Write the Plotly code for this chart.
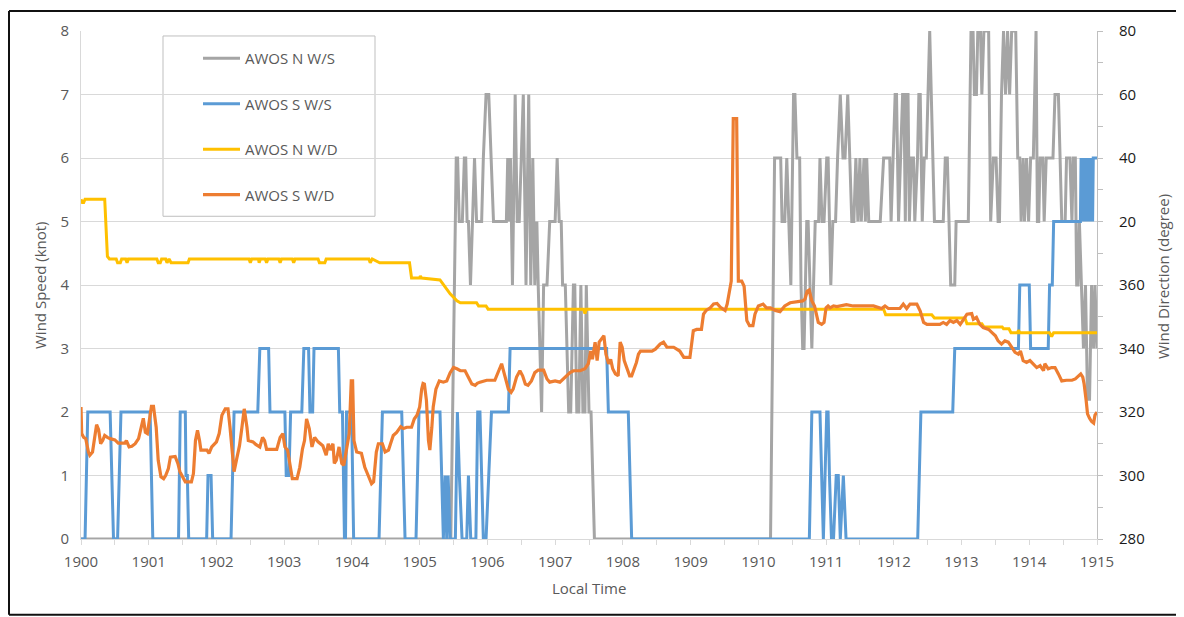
import plotly.graph_objects as go

# ---------------- data ----------------
# time axis in minutes, labelled 1900 ... 1915
x_tick_vals = list(range(1900, 1916))

# AWOS N wind speed (knot)
n_ws_t = [1900.00, 1905.46, 1905.54, 1905.56, 1905.585, 1905.63, 1905.66, 1905.68, 1905.70, 1905.72,
          1905.75, 1905.78, 1905.81, 1905.84, 1905.915, 1905.94, 1905.98, 1906.02, 1906.05, 1906.09,
          1906.28, 1906.30, 1906.32, 1906.34, 1906.37, 1906.41, 1906.44, 1906.47, 1906.50, 1906.53,
          1906.57, 1906.61, 1906.64, 1906.67, 1906.70, 1906.73, 1906.75, 1906.80, 1906.83, 1906.88,
          1906.92, 1907.00, 1907.03, 1907.06, 1907.09, 1907.11, 1907.15, 1907.20, 1907.23, 1907.27,
          1907.29, 1907.32, 1907.35, 1907.38, 1907.41, 1907.44, 1907.46, 1907.50, 1907.53, 1907.58,
          1910.18, 1910.24, 1910.33, 1910.35, 1910.39, 1910.42, 1910.45, 1910.48, 1910.52, 1910.54,
          1910.57, 1910.61, 1910.63, 1910.655, 1910.675, 1910.715, 1910.735, 1910.79, 1910.84, 1910.89,
          1910.91, 1910.94, 1910.97, 1911.01, 1911.03, 1911.07, 1911.10, 1911.14, 1911.17, 1911.21,
          1911.25, 1911.28, 1911.32, 1911.35, 1911.38, 1911.41, 1911.44, 1911.47, 1911.50, 1911.52,
          1911.56, 1911.58, 1911.60, 1911.63, 1911.80, 1911.85, 1911.94, 1911.96, 1911.99, 1912.02,
          1912.04, 1912.07, 1912.10, 1912.13, 1912.15, 1912.17, 1912.19, 1912.21, 1912.23, 1912.26,
          1912.29, 1912.31, 1912.35, 1912.37, 1912.39, 1912.42, 1912.45, 1912.48, 1912.53, 1912.57,
          1912.60, 1912.73, 1912.76, 1912.79, 1912.84, 1912.90, 1912.92, 1913.10, 1913.14, 1913.17,
          1913.19, 1913.22, 1913.24, 1913.28, 1913.30, 1913.33, 1913.40, 1913.43, 1913.47, 1913.51,
          1913.54, 1913.56, 1913.59, 1913.62, 1913.65, 1913.68, 1913.71, 1913.74, 1913.80, 1913.83,
          1913.86, 1913.88, 1913.91, 1913.93, 1913.96, 1913.99, 1914.02, 1914.06, 1914.10, 1914.12,
          1914.14, 1914.16, 1914.20, 1914.22, 1914.25, 1914.35, 1914.38, 1914.43, 1914.46, 1914.48,
          1914.53, 1914.55, 1914.60, 1914.63, 1914.65, 1914.68, 1914.70, 1914.72, 1914.74, 1914.77,
          1914.80, 1914.83, 1914.86, 1914.89, 1914.92, 1914.95, 1914.97, 1915.00]
n_ws_v = [0, 0, 6, 6, 5, 5, 6, 6, 5, 5,
          4, 5, 6, 5, 5, 6, 7, 7, 6, 5,
          5, 6, 5, 6, 4, 7, 5, 5, 6, 7,
          4, 7, 4, 6, 4, 5, 4, 2, 4, 4,
          5, 5, 6, 5, 5, 4, 4, 2, 2, 4,
          4, 2, 2, 4, 2, 2, 4, 2, 2, 0,
          0, 6, 6, 5, 5, 6, 5, 4, 7, 7,
          6, 6, 4, 3, 3, 5, 5, 3, 5, 5,
          6, 5, 5, 6, 6, 4, 5, 5, 6, 7,
          6, 6, 7, 6, 5, 5, 6, 5, 6, 5,
          6, 5, 6, 5, 5, 6, 6, 5, 6, 7,
          7, 5, 6, 7, 7, 5, 7, 7, 5, 6,
          6, 5, 6, 7, 7, 5, 6, 6, 8, 6,
          5, 5, 6, 6, 4, 4, 5, 5, 8, 8,
          7, 7, 8, 8, 7, 8, 8, 5, 6, 6,
          5, 5, 7, 8, 7, 8, 7, 8, 8, 6,
          6, 5, 6, 5, 6, 5, 6, 6, 8, 5,
          5, 6, 6, 5, 6, 6, 7, 7, 6, 5,
          5, 6, 6, 5, 6, 6, 4, 4, 5, 4,
          3, 4, 2.2, 2.2, 4, 3, 4, 3]

# AWOS S wind speed (knot)
s_ws_t = [1900.00, 1900.06, 1900.08, 1900.10, 1900.43, 1900.455, 1900.48, 1900.54, 1900.56, 1900.59,
          1901.02, 1901.04, 1901.06, 1901.44, 1901.465, 1901.54, 1901.55, 1901.57, 1901.59, 1901.855,
          1901.875, 1901.92, 1901.944, 1902.215, 1902.235, 1902.26, 1902.61, 1902.64, 1902.77, 1902.79,
          1903.01, 1903.03, 1903.07, 1903.095, 1903.26, 1903.29, 1903.36, 1903.38, 1903.42, 1903.44,
          1903.80, 1903.82, 1903.86, 1903.875, 1903.89, 1903.905, 1903.92, 1903.995, 1904.01, 1904.025,
          1904.40, 1904.425, 1904.45, 1904.735, 1904.76, 1904.784, 1904.946, 1904.966, 1904.99, 1905.30,
          1905.325, 1905.35, 1905.375, 1905.40, 1905.42, 1905.45, 1905.527, 1905.557, 1905.586, 1905.626,
          1905.695, 1905.72, 1905.754, 1905.83, 1905.857, 1905.89, 1905.94, 1905.98, 1906.02, 1906.06,
          1906.31, 1906.335, 1907.76, 1907.786, 1908.08, 1908.10, 1908.13, 1910.753, 1910.77, 1910.79,
          1910.91, 1910.93, 1910.96, 1911.01, 1911.03, 1911.05, 1911.08, 1911.11, 1911.15, 1911.18,
          1911.21, 1911.255, 1911.295, 1912.353, 1912.375, 1912.40, 1912.87, 1912.90, 1913.84, 1913.86,
          1914.00, 1914.02, 1914.28, 1914.30, 1914.34, 1914.36, 1914.755, 1914.765, 1914.775, 1914.785,
          1914.795, 1914.805, 1914.815, 1914.825, 1914.835, 1914.845, 1914.855, 1914.865, 1914.875, 1914.885,
          1914.895, 1914.905, 1914.915, 1914.925, 1914.935, 1914.945, 1915.00]
s_ws_v = [0, 0, 1, 2, 2, 1, 0, 0, 1, 2,
          2, 1, 0, 0, 2, 2, 1, 1, 0, 0,
          1, 1, 0, 0, 1, 2, 2, 3, 3, 2,
          2, 1, 1, 2, 2, 3, 3, 2, 2, 3,
          3, 2, 2, 1, 0, 0, 2, 2, 1, 0,
          0, 1, 2, 2, 1, 0, 0, 1, 2, 2,
          1, 0, 1, 0, 1, 0, 0, 2, 1, 0,
          0, 1, 0, 0, 2, 2, 0, 0, 1, 2,
          2, 3, 3, 2, 2, 1, 0, 0, 1, 2,
          2, 1, 0, 2, 2, 1, 0, 0, 1, 1,
          0, 1, 0, 0, 1, 2, 2, 3, 3, 4,
          4, 3, 3, 4, 4, 5, 5, 6, 5, 6,
          5, 6, 5, 6, 5, 6, 5, 6, 5, 6,
          5, 6, 5, 6, 5, 6, 6]

# AWOS N wind direction (degree, values past north continue above 360)
n_wd_t = [1900.00, 1900.02, 1900.04, 1900.06, 1900.35, 1900.39, 1900.42, 1900.52, 1900.54, 1900.58,
          1900.60, 1900.66, 1900.68, 1900.70, 1901.12, 1901.14, 1901.17, 1901.19, 1901.25, 1901.27,
          1901.30, 1901.33, 1901.58, 1901.60, 1902.48, 1902.50, 1902.52, 1902.62, 1902.63, 1902.65,
          1902.72, 1902.74, 1902.76, 1902.92, 1902.94, 1902.96, 1903.12, 1903.14, 1903.16, 1903.50,
          1903.52, 1903.60, 1903.62, 1904.25, 1904.27, 1904.30, 1904.41, 1904.85, 1904.88, 1905.00,
          1905.01, 1905.03, 1905.30, 1905.35, 1905.45, 1905.55, 1905.60, 1905.84, 1905.87, 1905.98,
          1906.01, 1907.42, 1907.44, 1907.46, 1911.85, 1911.88, 1912.56, 1912.60, 1913.05, 1913.08,
          1913.30, 1913.33, 1913.60, 1913.62, 1913.70, 1913.73, 1913.83, 1913.84, 1913.86, 1914.30,
          1914.33, 1914.36, 1915.00]
n_wd_deg = [387, 386, 386, 387, 387, 369, 368.2, 368.2, 367, 367,
            368.2, 368.2, 367, 368.2, 368.2, 367, 367, 368.2, 368.2, 367,
            368.2, 367, 367, 368.2, 368.2, 367, 368.2, 368.2, 367, 368.2,
            368.2, 367, 368.2, 368.2, 367, 368.2, 368.2, 367, 368.2, 368.2,
            367, 367, 368.2, 368.2, 367, 368.2, 367, 367, 362.2, 362.2,
            362.8, 362.2, 361.6, 360, 357.2, 355, 354.4, 354.4, 353.4, 353.4,
            352.4, 352.4, 351, 352.4, 352.4, 350.6, 350.6, 349.6, 349.6, 347.8,
            347.8, 346.8, 346.8, 346.2, 346.2, 345, 345, 345.8, 345, 345,
            343.8, 345, 345]

# AWOS S wind direction (degree)
s_wd_t = [1900.00, 1900.01, 1900.04, 1900.07, 1900.11, 1900.13, 1900.17, 1900.21, 1900.23, 1900.26,
          1900.29, 1900.32, 1900.35, 1900.39, 1900.43, 1900.50, 1900.55, 1900.65, 1900.67, 1900.71,
          1900.75, 1900.80, 1900.85, 1900.92, 1900.95, 1900.98, 1901.01, 1901.04, 1901.07, 1901.11,
          1901.14, 1901.18, 1901.22, 1901.25, 1901.29, 1901.32, 1901.39, 1901.43, 1901.46, 1901.50,
          1901.54, 1901.63, 1901.66, 1901.69, 1901.72, 1901.75, 1901.77, 1901.86, 1901.89, 1901.93,
          1902.00, 1902.04, 1902.08, 1902.13, 1902.17, 1902.20, 1902.23, 1902.26, 1902.30, 1902.34,
          1902.37, 1902.41, 1902.45, 1902.47, 1902.54, 1902.58, 1902.64, 1902.68, 1902.71, 1902.74,
          1902.89, 1902.94, 1902.98, 1903.01, 1903.05, 1903.09, 1903.12, 1903.19, 1903.23, 1903.27,
          1903.30, 1903.33, 1903.37, 1903.41, 1903.45, 1903.50, 1903.57, 1903.62, 1903.65, 1903.68,
          1903.72, 1903.74, 1903.77, 1903.81, 1903.85, 1903.88, 1903.92, 1903.96, 1903.99, 1904.01,
          1904.03, 1904.07, 1904.14, 1904.19, 1904.24, 1904.29, 1904.32, 1904.36, 1904.39, 1904.45,
          1904.49, 1904.54, 1904.57, 1904.61, 1904.66, 1904.72, 1904.76, 1904.81, 1904.88, 1904.92,
          1904.96, 1905.00, 1905.03, 1905.05, 1905.07, 1905.10, 1905.13, 1905.15, 1905.18, 1905.20,
          1905.24, 1905.29, 1905.35, 1905.40, 1905.45, 1905.50, 1905.55, 1905.60, 1905.67, 1905.72,
          1905.77, 1905.82, 1905.85, 1905.89, 1905.94, 1905.99, 1906.11, 1906.16, 1906.21, 1906.23,
          1906.26, 1906.31, 1906.35, 1906.38, 1906.43, 1906.48, 1906.52, 1906.56, 1906.60, 1906.65,
          1906.70, 1906.75, 1906.83, 1906.88, 1906.92, 1907.00, 1907.07, 1907.12, 1907.17, 1907.22,
          1907.27, 1907.37, 1907.44, 1907.49, 1907.525, 1907.55, 1907.59, 1907.62, 1907.65, 1907.69,
          1907.72, 1907.75, 1907.79, 1907.82, 1907.85, 1907.89, 1907.93, 1907.96, 1907.99, 1908.02,
          1908.06, 1908.10, 1908.13, 1908.17, 1908.20, 1908.23, 1908.26, 1908.35, 1908.43, 1908.48,
          1908.55, 1908.60, 1908.65, 1908.75, 1908.84, 1908.90, 1908.99, 1909.04, 1909.09, 1909.16,
          1909.19, 1909.23, 1909.29, 1909.34, 1909.39, 1909.44, 1909.51, 1909.54, 1909.57, 1909.60,
          1909.63, 1909.68, 1909.705, 1909.755, 1909.79, 1909.83, 1909.87, 1909.92, 1909.95, 1910.00,
          1910.07, 1910.12, 1910.18, 1910.25, 1910.32, 1910.39, 1910.47, 1910.57, 1910.655, 1910.69,
          1910.72, 1910.75, 1910.79, 1910.83, 1910.885, 1910.935, 1910.97, 1911.00, 1911.03, 1911.06,
          1911.11, 1911.16, 1911.21, 1911.30, 1911.40, 1911.50, 1911.70, 1911.82, 1911.87, 1911.92,
          1911.99, 1912.09, 1912.14, 1912.19, 1912.24, 1912.34, 1912.39, 1912.44, 1912.49, 1912.68,
          1912.73, 1912.78, 1912.83, 1912.88, 1912.93, 1912.98, 1913.03, 1913.08, 1913.15, 1913.175,
          1913.22, 1913.27, 1913.32, 1913.40, 1913.45, 1913.50, 1913.54, 1913.59, 1913.64, 1913.69,
          1913.74, 1913.79, 1913.84, 1913.87, 1913.91, 1913.96, 1914.01, 1914.06, 1914.11, 1914.16,
          1914.21, 1914.23, 1914.28, 1914.33, 1914.38, 1914.43, 1914.48, 1914.55, 1914.63, 1914.68,
          1914.725, 1914.76, 1914.79, 1914.81, 1914.84, 1914.86, 1914.89, 1914.92, 1914.95, 1914.97,
          1915.00]
s_wd_deg = [321.6, 313.2, 312, 311.6, 307.4, 306.4, 307.4, 313.2, 316, 314.4,
            310, 311, 312.6, 312, 311.6, 311.2, 310.2, 310.2, 311, 309,
            309.2, 310, 311.6, 318, 313.6, 313.2, 317.4, 321.8, 321.8, 315.2,
            304.8, 299.6, 299, 300, 302.2, 305.8, 306, 303.8, 301.2, 299.6,
            298, 298, 300.6, 311, 314.2, 311, 308, 308, 307, 309,
            310.6, 313.2, 319, 321, 321, 315.2, 308, 301.2, 305.4, 309.4,
            314.2, 321, 315.2, 311, 310.6, 309.8, 309, 312, 311, 308.2,
            308.2, 312, 313.2, 309, 308, 302.2, 299, 299, 302.6, 308.4,
            311, 317.8, 314.8, 309, 312, 310.6, 309.4, 306.4, 310, 308,
            310, 303.8, 304.8, 309, 303.8, 303.2, 309, 313.2, 329.8, 329.8,
            311, 307.4, 307, 302.6, 300, 297.4, 298, 307.4, 310, 310,
            307.4, 308, 310, 312.6, 313.6, 315.4, 314.8, 315.2, 315.2, 317.8,
            319, 321.6, 327.2, 329, 328.8, 323.6, 311, 308, 315.2, 321.6,
            327.2, 329.8, 329.4, 329.8, 332.4, 334, 333.6, 333, 333, 331,
            328.8, 328.4, 329, 329.4, 329.8, 330, 330, 332.4, 335.2, 333.6,
            331, 327.2, 326.2, 327.2, 331, 333, 331.4, 328.8, 328.4, 329.8,
            332.4, 333.2, 333.2, 330.4, 329.4, 329.8, 329.4, 330.4, 331.4, 332.4,
            333, 333, 333.6, 335.2, 339.2, 336.6, 342, 336.2, 342, 343.4,
            344, 338.2, 335.2, 336.6, 333.6, 332, 331.4, 342, 340.4, 336.2,
            334, 331.4, 331.4, 333.6, 335.6, 338.2, 339.2, 339.2, 339.2, 339.8,
            341.4, 342, 340.4, 340.4, 339.2, 337.2, 337.2, 345.6, 346, 346,
            350.8, 352, 352.8, 354, 354.2, 353, 352, 354, 357, 361.2,
            412.4, 412.4, 361.2, 361.2, 359.6, 348.8, 347.2, 347.2, 350.8, 353.4,
            354, 352.8, 352.8, 352, 351.6, 353.4, 354.4, 354.6, 355, 355.6,
            358, 358.4, 355, 353.4, 348.2, 347.6, 348.2, 352.8, 353.4, 352.8,
            353.4, 353.2, 353.4, 353.8, 353.4, 353.4, 353.4, 352.6, 353.4, 352.6,
            352.6, 352.6, 354, 352.6, 354, 354, 351.8, 348.2, 347.6, 347.6,
            348.2, 347.6, 348.8, 348.2, 348.8, 347.6, 349.2, 350.8, 351, 349.2,
            349.8, 347.6, 346.6, 346, 345, 344, 342.4, 341.4, 342.4, 342,
            340.4, 338.8, 338.2, 339.2, 336.2, 335.6, 336.2, 335.2, 334, 334.6,
            333, 335.2, 333.6, 334, 334, 332, 329.8, 330, 330, 330.4,
            331.4, 332, 331, 328.8, 323.6, 319.4, 318, 317, 316.5, 319,
            320]

dir_tick_vals = [280, 300, 320, 340, 360, 380, 400, 420, 440]
dir_tick_text = ["280", "300", "320", "340", "360", "20", "40", "60", "80"]

series_names = ["AWOS N W/S", "AWOS S W/S", "AWOS N W/D", "AWOS S W/D"]
series_colors = ["#A5A5A5", "#5B9BD5", "#FFC000", "#ED7D31"]

# ---------------- figure ----------------
FONT = "Open Sans"
GREY_TXT = "#595959"

fig = go.Figure()
fig.add_trace(go.Scatter(x=n_ws_t, y=n_ws_v, mode="lines", name=series_names[0],
                         line=dict(color=series_colors[0], width=3), legendgroup="g1"))
fig.add_trace(go.Scatter(x=s_ws_t, y=s_ws_v, mode="lines", name=series_names[1],
                         line=dict(color=series_colors[1], width=3), legendgroup="g2"))
fig.add_trace(go.Scatter(x=n_wd_t, y=n_wd_deg, mode="lines", name=series_names[2], yaxis="y2",
                         line=dict(color=series_colors[2], width=3), legendgroup="g3"))
fig.add_trace(go.Scatter(x=s_wd_t, y=s_wd_deg, mode="lines", name=series_names[3], yaxis="y2",
                         line=dict(color=series_colors[3], width=3.2), legendgroup="g4"))

# the page places the figure 8 px from the window's top-left corner
OFF = 8
W, H = 1184, 617
PL, PR, PT, PB = 81, 1097, 29, 539          # plot area in window pixels
L, T = PL - OFF, PT - OFF
pw, ph = PR - PL, PB - PT
R = W - L - pw
B = H - T - ph


def px(x):
    return (x - PL) / pw


def py(y):
    return (PB - y) / ph


fig.update_layout(
    width=W, height=H,
    margin=dict(l=L, r=R, t=T, b=B, pad=0),
    paper_bgcolor="white", plot_bgcolor="white",
    font=dict(family=FONT, size=15, color=GREY_TXT),
    xaxis=dict(range=[1900, 1915], tickvals=x_tick_vals, tickformat="d",
               showgrid=False, zeroline=False, showline=True, linecolor="#d9d9d9", linewidth=1,
               ticks="outside", ticklen=5, tickcolor="#d9d9d9",
               minor=dict(dtick=0.5, tick0=1900, ticks="outside", ticklen=5, tickcolor="#d9d9d9", showgrid=False),
               tickfont=dict(size=15, color=GREY_TXT), ticklabelstandoff=4),
    yaxis=dict(range=[0, 8], dtick=1, showgrid=True, gridcolor="#d9d9d9", gridwidth=1,
               zeroline=False, showline=True, linecolor="#d9d9d9", ticks="",
               tickfont=dict(size=15, color=GREY_TXT), ticklabelstandoff=8),
    yaxis2=dict(range=[280, 440], overlaying="y", side="right", tickvals=dir_tick_vals,
                ticktext=dir_tick_text, showgrid=False, zeroline=False, showline=True,
                linecolor="#bfbfbf", ticks="outside", ticklen=5, tickcolor="#bfbfbf",
                minor=dict(dtick=10, tick0=280, ticks="outside", ticklen=5, tickcolor="#bfbfbf", showgrid=False),
                tickfont=dict(size=15, color="#1a1a1a"), ticklabelstandoff=13),
    showlegend=True,
    legend=dict(x=px(198), y=py(40), xanchor="left", yanchor="top",
                bgcolor="rgba(0,0,0,0)", borderwidth=0, tracegroupgap=23,
                traceorder="grouped", itemwidth=37,
                font=dict(family=FONT, size=15, color=GREY_TXT)),
)

# legend frame
fig.add_shape(type="rect", xref="paper", yref="paper",
              x0=px(163), x1=px(375), y0=py(215), y1=py(34),
              line=dict(color="#bfbfbf", width=1), fillcolor="rgba(0,0,0,0)", layer="below")

# outer picture frame
fx0, fx1, fy0, fy1 = px(OFF + 1), px(1180), py(615), py(OFF + 1)
for (a, b, c, d, col) in [(fx0, fy1, fx1, fy1, "#111111"),
                          (fx0, fy0, fx1, fy0, "#111111"),
                          (fx0, fy0, fx0, fy1, "#111111"),
                          (fx1, fy0, fx1, fy1, "#c8c8c8")]:
    fig.add_shape(type="line", xref="paper", yref="paper", x0=a, y0=b, x1=c, y1=d,
                  line=dict(color=col, width=2))

# axis titles
fig.add_annotation(text="Wind Speed (knot)", xref="paper", yref="paper", x=px(40), y=py(284),
                   textangle=-90, showarrow=False, xanchor="center", yanchor="middle",
                   font=dict(family=FONT, size=15, color=GREY_TXT))
fig.add_annotation(text="Wind Direction (degree)", xref="paper", yref="paper", x=px(1163), y=py(276),
                   textangle=-90, showarrow=False, xanchor="center", yanchor="middle",
                   font=dict(family=FONT, size=15, color=GREY_TXT))
fig.add_annotation(text="Local Time", xref="paper", yref="paper", x=px(589), y=py(588),
                   showarrow=False, xanchor="center", yanchor="middle",
                   font=dict(family=FONT, size=15, color=GREY_TXT))

fig.write_html("out.html")
